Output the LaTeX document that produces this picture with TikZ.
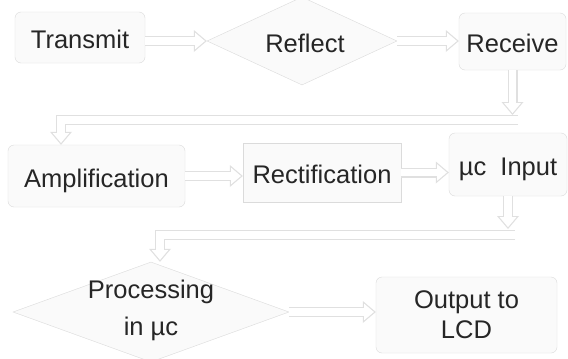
\documentclass[tikz,border=0pt]{standalone}
\usepackage{fontspec}
\setmainfont{Liberation Sans}
\usetikzlibrary{arrows.meta, shapes.geometric}
\newcommand\boxfont{\fontsize{25.5}{30}\selectfont}
\tikzset{
  box/.style = {draw=black!14, fill=black!2, rounded corners=6pt, inner sep=0pt,
                font=\boxfont, text=black!85},
  one/.style = {text height=22pt, text depth=0pt},
  diam/.style = {diamond, draw=black!14, fill=black!2, inner sep=0pt},
  lbl/.style = {inner sep=0pt, font=\boxfont, text=black!85, align=center},
  pipe/.style = {draw=white, line width=7.6pt, shorten >=1.9pt,
                 -{Triangle[length=9.9pt, width=16.8pt, line width=0pt]},
                 preaction={draw=black!12, line width=10pt, shorten >=0pt,
                 -{Triangle[length=13pt, width=22pt, line width=0pt]}}}
}
\begin{document}
\begin{tikzpicture}[x=1pt, y=-1pt]
\fill[white] (0,0) rectangle (568,359);
\useasboundingbox (0,0) rectangle (568,359);

% top row
\node[box, one, minimum width=130pt, minimum height=51pt] (trans) at (80,37.5) {Transmit};
\node[diam, minimum width=190pt, minimum height=88pt] (refl) at (302,41) {};
\node[lbl] (refltxt) at (305,43) {Reflect};
\node[box, one, minimum width=107pt, minimum height=57pt] (recv) at (512.5,41.5) {Receive};

% middle row
\node[box, one, minimum width=177pt, minimum height=62pt] (amp) at (96.5,176) {Amplification};
\node[box, one, sharp corners, minimum width=158pt, minimum height=59pt] (rect) at (322,172.5) {Rectification};
\node[box, one, minimum width=118pt, minimum height=63pt] (uc) at (508,164.5) {µc~~Input};

% bottom row
\node[diam, minimum width=276pt, minimum height=100pt] (proc) at (151,312) {};
\node[lbl, font=\fontsize{25.5}{37}\selectfont] (proctxt) at (151,310) {Processing\\in µc};
\node[box, align=center, minimum width=181pt, minimum height=76pt] (out) at (466.5,315) {Output to\\LCD};

% connectors
\coordinate (hub1) at (512.5,115);
\coordinate (hub1r) at (518,120);
\coordinate (hub1l) at (61,120);
\coordinate (hub2) at (508,229);
\coordinate (hub2r) at (515,235);
\coordinate (hub2l) at (160,235);

\draw[pipe] (trans.east |- refl.west) -- (refl.west);
\draw[pipe] (refl.east) -- (refl.east -| recv.west);
\draw[pipe] (recv.south) -- (hub1);
\draw[pipe] (hub1r) -- (hub1l) -- (hub1l |- amp.north);
\draw[pipe] (amp.east) -- (amp.east -| rect.west);
\draw[pipe] (rect.east) -- (rect.east -| uc.west);
\draw[pipe] (uc.south) -- (hub2);
\draw[pipe] (hub2r) -- (hub2l) -- (hub2l |- proc.north);
\draw[pipe] (proc.east) -- (proc.east -| out.west);
\end{tikzpicture}
\end{document}
